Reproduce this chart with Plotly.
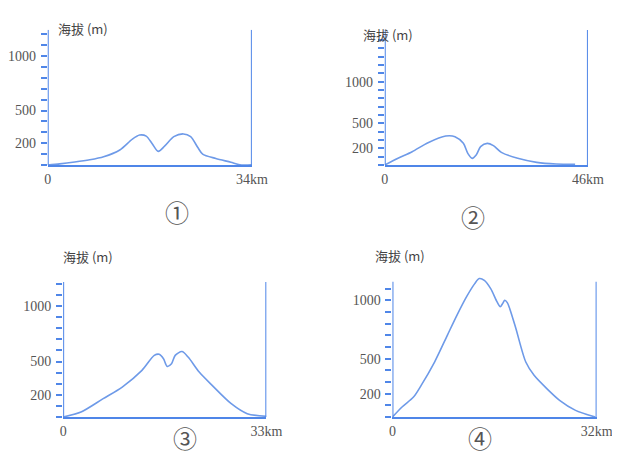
import plotly.graph_objects as go

W, H = 620, 471
OFF = 8  # page body margin of the browser

# ---- data (distance km, elevation m) ----
p1_km = [0, 2, 4.5, 7, 9.3, 12, 14.1, 15.3, 16.4, 17.4, 18.4, 19.5, 21, 22.6, 23.8, 25, 25.8, 28, 30.5, 32, 34]
p1_m = [0, 10, 27, 48, 76, 138, 238, 275, 265, 195, 125, 175, 260, 285, 260, 160, 100, 60, 25, 2, 2]
p1_len = 34

p2_km = [0, 3, 6.2, 9.8, 13.8, 15.9, 17.8, 18.8, 19.8, 20.7, 21.7, 23.2, 24.6, 26.4, 30.1, 34.4, 38.8, 43.1]
p2_m = [0, 80, 160, 268, 348, 340, 260, 140, 80, 120, 220, 260, 232, 152, 80, 32, 12, 8]
p2_len = 46

p3_km = [0, 2.9, 6.5, 9.6, 12.8, 14.8, 15.6, 16.3, 16.9, 17.6, 18.2, 19.3, 20.3, 22.1, 24.2, 27.3, 29.9, 33]
p3_m = [0, 45, 165, 270, 420, 555, 565, 525, 456, 480, 555, 590, 540, 405, 285, 120, 30, 6]
p3_len = 33

p4_km = [0, 1.5, 3.3, 4.5, 6.6, 8.6, 10.1, 11.6, 12.9, 13.6, 14.4, 15.4, 16.4, 16.9, 17.3, 17.6, 18.0, 19.2, 20.9, 22.2, 24.2, 26.2, 28.7, 31.8]
p4_m = [0, 86, 171, 271, 471, 700, 871, 1029, 1143, 1186, 1171, 1100, 986, 945, 975, 1000, 980, 786, 471, 357, 243, 143, 57, 0]
p4_len = 32

y_labels = {200: "200", 500: "500", 1000: "1000"}
names = ["①", "②", "③", "④"]

AXIS = "#4f86e8"
LINE = "#6e9ae8"
TXT = "#555555"

panels = [
    dict(km=p1_km, m=p1_m, L=p1_len, x0=42, x1=254, yb=165, k=10.9, top=1240, rtop=1240, ttop=1200,
         ylab=(51, 17), circ=(162, 211)),
    dict(km=p2_km, m=p2_m, L=p2_len, x0=392, x1=603, yb=165, k=8.33, top=1620, rtop=1620, ttop=1500,
         ylab=(395, 23), circ=(498, 216)),
    dict(km=p3_km, m=p3_m, L=p3_len, x0=58, x1=269, yb=417, k=11.1, top=1216, rtop=1216, ttop=1200,
         ylab=(56, 256), circ=(170, 457)),
    dict(km=p4_km, m=p4_m, L=p4_len, x0=400, x1=612, yb=417, k=11.67, top=1160, rtop=1230, ttop=1100,
         ylab=(408, 255), circ=(505, 457)),
]

fig = go.Figure()
layout = dict(width=W, height=H, margin=dict(l=0, r=0, t=0, b=0),
              paper_bgcolor="white", plot_bgcolor="white", showlegend=False)
shapes = []
annotations = []

def px_x(x):
    return (x - OFF) / W

def px_y(y):
    return 1 - (y - OFF) / H

for i, p in enumerate(panels):
    n = "" if i == 0 else str(i + 1)
    xa, ya = "x" + n, "y" + n
    fig.add_trace(go.Scatter(x=p["km"], y=p["m"], mode="lines", xaxis=xa, yaxis=ya,
                             line=dict(color=LINE, width=1.6, shape="spline", smoothing=0.8),
                             hoverinfo="skip"))
    ytop_px = p["yb"] - p["rtop"] / 100 * p["k"]
    tv = list(range(0, p["ttop"] + 1, 100))
    tt = [y_labels.get(v, "") for v in tv]
    layout["xaxis" + n] = dict(domain=[px_x(p["x0"]), px_x(p["x1"])], range=[0, p["L"]], anchor=ya,
                               showgrid=False, zeroline=False, showline=True, linecolor=AXIS, linewidth=2,
                               tickvals=[0, p["L"]], ticktext=["0", f'{p["L"]}km'], ticks="",
                               tickfont=dict(family="Liberation Serif", size=14, color=TXT),
                               fixedrange=True)
    layout["yaxis" + n] = dict(domain=[px_y(p["yb"]), px_y(ytop_px)], range=[0, p["rtop"]], anchor=xa,
                               showgrid=False, zeroline=False, showline=False,
                               tickvals=tv, ticktext=tt, ticks="outside", ticklen=6, tickwidth=1.6,
                               tickcolor=AXIS, ticklabelstandoff=2,
                               tickfont=dict(family="Liberation Serif", size=14, color=TXT),
                               fixedrange=True)
    for xv in (0, p["L"]):
        shapes.append(dict(type="line", xref=xa, yref=ya, x0=xv, x1=xv, y0=0, y1=p["top"],
                           line=dict(color=AXIS, width=2)))
    annotations.append(dict(text="海拔 (m)", x=px_x(p["ylab"][0]), y=px_y(p["ylab"][1]),
                            xref="paper", yref="paper", showarrow=False,
                            font=dict(family="Noto Sans CJK SC", size=13, color="#444444")))
    annotations.append(dict(text=names[i], x=px_x(p["circ"][0]), y=px_y(p["circ"][1]),
                            xref="paper", yref="paper", showarrow=False,
                            font=dict(family="Noto Sans CJK SC", size=24, color=TXT)))

layout["shapes"] = shapes
layout["annotations"] = annotations
fig.update_layout(**layout)
fig.write_html("out.html")
